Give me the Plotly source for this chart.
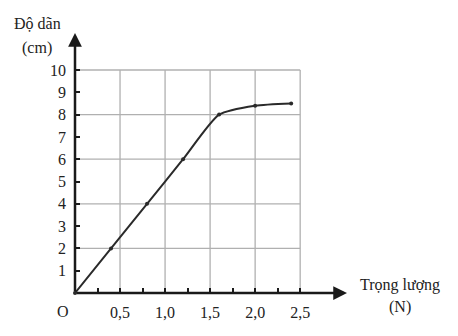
import plotly.graph_objects as go

weight = [0, 0.4, 0.8, 1.2, 1.6, 2.0, 2.4]
extension = [0, 2, 4, 6, 8, 8.4, 8.5]

x_ticks = [0.25, 0.5, 0.75, 1.0, 1.25, 1.5, 1.75, 2.0, 2.25, 2.5]
x_ticktext = ["", "0,5", "", "1,0", "", "1,5", "", "2,0", "", "2,5"]
y_ticks = [1, 2, 3, 4, 5, 6, 7, 8, 9, 10]
y_ticktext = [str(v) for v in y_ticks]
grid_x = [0.5, 1.0, 1.5, 2.0, 2.5]
grid_y = [2, 4, 6, 8, 10]

FONT = "'Liberation Serif', 'Times New Roman', 'DejaVu Serif', serif"
XMAX = 3.02
YMAX = 11.66

fig = go.Figure()

shapes = []
for gx in grid_x:
    shapes.append(dict(type="line", xref="x", yref="y", x0=gx, x1=gx, y0=0, y1=max(grid_y),
                       line=dict(color="#b0b0b0", width=1.3), layer="below"))
for gy in grid_y:
    shapes.append(dict(type="line", xref="x", yref="y", x0=0, x1=max(grid_x), y0=gy, y1=gy,
                       line=dict(color="#b0b0b0", width=1.3), layer="below"))

fig.add_trace(go.Scatter(
    x=weight, y=extension, mode="lines+markers",
    line=dict(color="#2a2a2a", width=2, shape="spline", smoothing=0.6),
    marker=dict(color="#2a2a2a", size=4),
    cliponaxis=False, showlegend=False, hoverinfo="skip"))

annotations = [
    dict(x=XMAX, y=0, ax=0, ay=0, xref="x", yref="y", axref="x", ayref="y",
         showarrow=True, arrowhead=2, arrowsize=1.1, arrowwidth=2.5, arrowcolor="#1a1a1a", text=""),
    dict(x=0, y=YMAX, ax=0, ay=0, xref="x", yref="y", axref="x", ayref="y",
         showarrow=True, arrowhead=2, arrowsize=1.1, arrowwidth=2.5, arrowcolor="#1a1a1a", text=""),
]
labels = [
    ("Độ dãn", 37, 24),
    ("(cm)", 37, 48),
    ("Trọng lượng", 400, 285),
    ("(N)", 400, 307),
    ("O", 63, 311),
]
L, R, T, B = 75, 111, 33, 43
W, H = 458, 336
pw, ph = W - L - R, H - T - B
for text, px, py in labels:
    annotations.append(dict(
        x=(px - L) / pw, y=(H - py - B) / ph, xref="paper", yref="paper",
        xanchor="center", yanchor="middle", text=text, showarrow=False,
        font=dict(family=FONT, size=16, color="#222")))

fig.update_layout(
    width=W, height=H,
    margin=dict(l=L, r=R, t=T, b=B, pad=0),
    paper_bgcolor="white", plot_bgcolor="white",
    shapes=shapes, annotations=annotations,
    font=dict(family=FONT, size=16, color="#222"),
    xaxis=dict(range=[0, XMAX], showgrid=False, zeroline=False, showline=False,
               tickmode="array", tickvals=x_ticks, ticktext=x_ticktext,
               ticks="inside", ticklen=5, tickwidth=2, tickcolor="#1a1a1a",
               ticklabelstandoff=8, fixedrange=True),
    yaxis=dict(range=[0, YMAX], showgrid=False, zeroline=False, showline=False,
               tickmode="array", tickvals=y_ticks, ticktext=y_ticktext,
               ticks="inside", ticklen=5, tickwidth=2, tickcolor="#1a1a1a",
               ticklabelstandoff=8, fixedrange=True),
)

fig.write_html("out.html", config={"displayModeBar": False})
